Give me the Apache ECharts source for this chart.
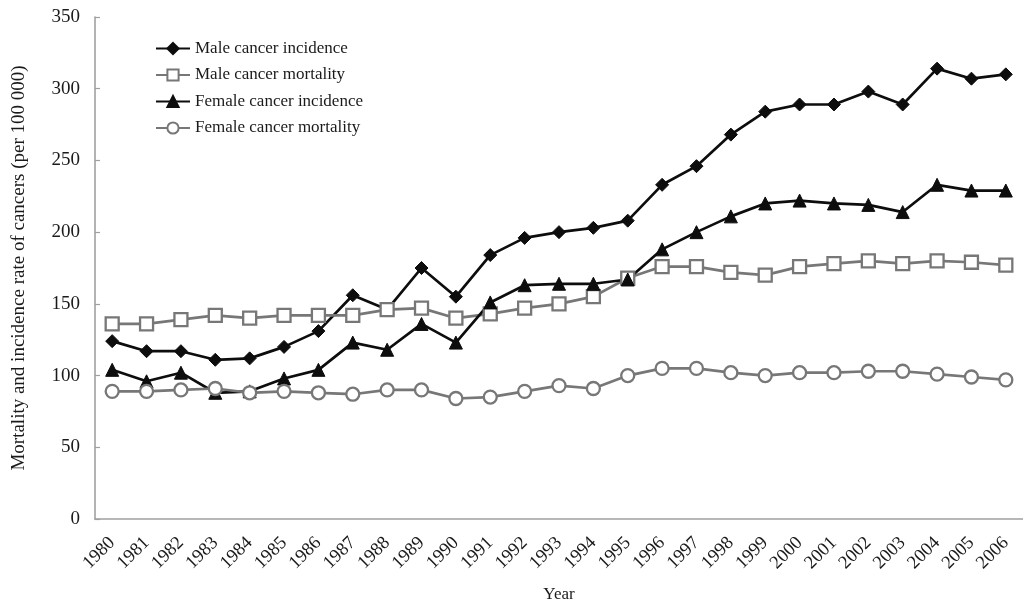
<!DOCTYPE html>
<html>
<head>
<meta charset="utf-8">
<script src="https://cdn.jsdelivr.net/npm/echarts@6/dist/echarts.min.js"></script>
<style>
  html, body { margin: 0; padding: 0; background: #fff; }
  #chart { width: 1023px; height: 608px; }
</style>
</head>
<body>
<div id="chart"></div>
<script>
// Cancer incidence and mortality rates per 100 000, 1980–2006
var years = ['1980','1981','1982','1983','1984','1985','1986','1987','1988','1989',
             '1990','1991','1992','1993','1994','1995','1996','1997','1998','1999',
             '2000','2001','2002','2003','2004','2005','2006'];

var maleIncidence = [124,117,117,111,112,120,131,156,146,175,155,184,196,200,203,208,
                     233,246,268,284,289,289,298,289,314,307,310];
var maleMortality = [136,136,139,142,140,142,142,142,146,147,140,143,147,150,155,168,
                     176,176,172,170,176,178,180,178,180,179,177];
var femaleIncidence = [104,96,102,88,89,98,104,123,118,136,123,151,163,164,164,167,
                       188,200,211,220,222,220,219,214,233,229,229];
var femaleMortality = [89,89,90,91,88,89,88,87,90,90,84,85,89,93,91,100,
                       105,105,102,100,102,102,103,103,101,99,97];

var yTicks = { min: 0, max: 350, interval: 50 };

var FONT = '"Liberation Serif", "Times New Roman", serif';
var TEXT = '#1a1a1a';
var AXIS = '#a0a0a0';
var DARK = '#0d0d0d';
var GREY = '#777777';

var chart = echarts.init(document.getElementById('chart'), null, { renderer: 'canvas' });

function lineSeries(name, data, color, symbol, size, hollow) {
  return {
    name: name,
    type: 'line',
    data: data,
    symbol: symbol,
    symbolSize: size,
    showAllSymbol: true,
    animation: false,
    lineStyle: { color: color, width: 2.7 },
    itemStyle: hollow
      ? { color: '#ffffff', borderColor: color, borderWidth: 2.3 }
      : { color: color, borderColor: color, borderWidth: 1 },
    emphasis: { disabled: true }
  };
}

chart.setOption({
  backgroundColor: '#ffffff',
  textStyle: { fontFamily: FONT, color: TEXT },
  grid: { left: 95, top: 17, bottom: 89, width: 937 },
  legend: {
    orient: 'vertical',
    left: 155,
    top: 40,
    padding: 0,
    itemWidth: 34,
    itemHeight: 14,
    itemGap: 9.5,
    textStyle: { fontFamily: FONT, fontSize: 17, color: TEXT },
    data: ['Male cancer incidence', 'Male cancer mortality',
           'Female cancer incidence', 'Female cancer mortality']
  },
  xAxis: {
    type: 'category',
    data: years,
    boundaryGap: true,
    name: 'Year',
    nameLocation: 'middle',
    nameGap: 67,
    nameTextStyle: { fontFamily: FONT, fontSize: 17, color: TEXT },
    axisLine: { lineStyle: { color: AXIS, width: 1.6 } },
    axisTick: { inside: true, length: 5, lineStyle: { color: AXIS, width: 1.2 } },
    axisLabel: {
      rotate: 45,
      margin: 21,
      interval: 0,
      fontFamily: FONT,
      fontSize: 18.5,
      color: TEXT
    },
    splitLine: { show: false }
  },
  yAxis: {
    type: 'value',
    min: yTicks.min,
    max: yTicks.max,
    interval: yTicks.interval,
    name: 'Mortality and incidence rate of cancers (per 100 000)',
    nameLocation: 'middle',
    nameGap: 66,
    nameRotate: 90,
    nameTextStyle: { fontFamily: FONT, fontSize: 19, color: TEXT },
    axisLine: { show: true, lineStyle: { color: AXIS, width: 1.6 } },
    axisTick: { show: true, inside: true, length: 5, lineStyle: { color: AXIS, width: 1.2 } },
    axisLabel: { margin: 15, fontFamily: FONT, fontSize: 19, color: TEXT },
    splitLine: { show: false }
  },
  series: [
    lineSeries('Male cancer incidence', maleIncidence, DARK, 'diamond', 13, false),
    lineSeries('Male cancer mortality', maleMortality, GREY, 'rect', 13, true),
    lineSeries('Female cancer incidence', femaleIncidence, DARK, 'triangle', 13, false),
    lineSeries('Female cancer mortality', femaleMortality, GREY, 'circle', 13, true)
  ]
});
</script>
</body>
</html>
